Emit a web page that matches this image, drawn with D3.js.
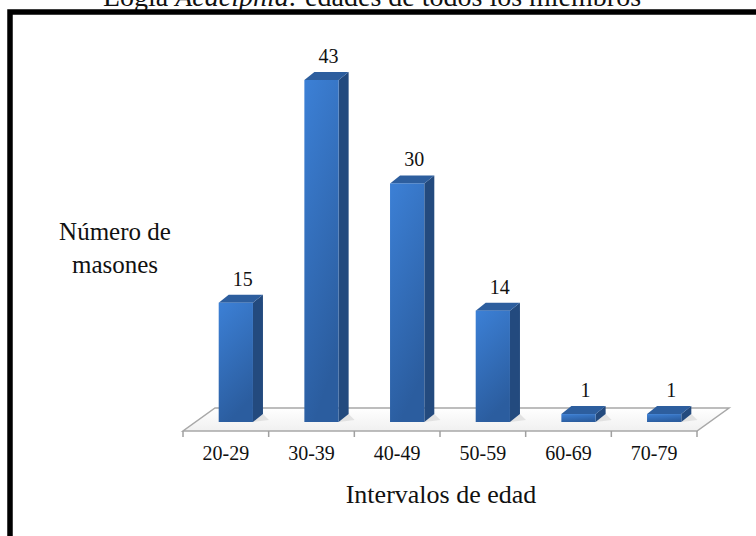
<!DOCTYPE html>
<html>
<head>
<meta charset="utf-8">
<script src="https://cdn.jsdelivr.net/npm/d3@7"></script>
<style>
  body { margin: 0; background: #fff; }
  svg { display: block; }
  text { font-family: "Liberation Serif", "Times New Roman", serif; fill: #111; }
</style>
</head>
<body>
<svg id="chart" width="756" height="536"></svg>
<script>
// data
const categories = ['20-29', '30-39', '40-49', '50-59', '60-69', '70-79'];
const members = [15, 43, 30, 14, 1, 1];

const svg = d3.select('#chart');

// gradients for the bars
const defs = svg.append('defs');
const front = defs.append('linearGradient').attr('id', 'front')
    .attr('x1', 0).attr('y1', 0).attr('x2', 0.3).attr('y2', 1);
front.append('stop').attr('offset', 0).attr('stop-color', '#3c80d6');
front.append('stop').attr('offset', 1).attr('stop-color', '#2b5d9f');
const floorGrad = defs.append('linearGradient').attr('id', 'floor')
    .attr('x1', 0).attr('y1', 0).attr('x2', 0).attr('y2', 1);
floorGrad.append('stop').attr('offset', 0).attr('stop-color', '#ffffff');
floorGrad.append('stop').attr('offset', 1).attr('stop-color', '#f0f0f0');

// title (cut by the top of the picture)
const title = svg.append('text')
    .attr('x', 372).attr('y', 6)
    .attr('text-anchor', 'middle')
    .style('font-size', '28px');
title.append('tspan').text('Logia ');
title.append('tspan').style('font-style', 'italic').text('Acacipnia:');
title.append('tspan').text(' edades de todos los miembros');

// frame
svg.append('rect')
    .attr('x', 10).attr('y', 12)
    .attr('width', 800).attr('height', 600)
    .attr('fill', 'none')
    .attr('stroke', '#000')
    .attr('stroke-width', 5.5);

// scales
const floorFront = 431;
const depthX = 32, depthY = 23;
const x = d3.scaleBand()
    .domain(categories)
    .range([183, 697]);

const base = 422;
const y = d3.scaleLinear()
    .domain([0, 43])
    .range([base, 80]);

// floor
const x0 = x.range()[0], x1 = x.range()[1];
svg.append('path')
    .attr('d', `M${x0},${floorFront} L${x1},${floorFront} L${x1 + depthX},${floorFront - depthY} L${x0 + depthX},${floorFront - depthY} Z`)
    .attr('fill', 'url(#floor)')
    .attr('stroke', '#a8a8a8')
    .attr('stroke-width', 1.5);

// x axis ticks
const ticks = categories.map(c => x(c)).concat([x1]);
svg.selectAll('.tick')
    .data(ticks)
    .enter().append('line')
    .attr('x1', d => d).attr('x2', d => d)
    .attr('y1', floorFront).attr('y2', floorFront + 6)
    .attr('stroke', '#a0a0a0')
    .attr('stroke-width', 1.5);

svg.selectAll('.xlabel')
    .data(categories)
    .enter().append('text')
    .attr('x', d => x(d) + x.bandwidth() / 2)
    .attr('y', 460)
    .attr('text-anchor', 'middle')
    .style('font-size', '20px')
    .text(d => d);

// bars
const barW = x.bandwidth() * 0.4;
const shift = 10; // depth of bar side
const shiftY = 8;
const bars = svg.selectAll('.bar')
    .data(categories.map((c, i) => ({ cat: c, v: members[i] })))
    .enter().append('g');

const left = d => x(d.cat) + x.bandwidth() / 2 - barW / 2 + 10;

// shadow on floor
bars.append('path')
    .attr('d', d => `M${left(d) + barW},${base} L${left(d) + barW + 16},${base - 2} L${left(d) + barW + shift},${base - shiftY} Z`)
    .attr('fill', '#d8d8d8')
    .attr('opacity', 0.7);

bars.append('path') // side
    .attr('d', d => `M${left(d) + barW},${y(d.v)} L${left(d) + barW + shift},${y(d.v) - shiftY} L${left(d) + barW + shift},${base - shiftY} L${left(d) + barW},${base} Z`)
    .attr('fill', '#234a7e');

bars.append('path') // top
    .attr('d', d => `M${left(d)},${y(d.v)} L${left(d) + shift},${y(d.v) - shiftY} L${left(d) + barW + shift},${y(d.v) - shiftY} L${left(d) + barW},${y(d.v)} Z`)
    .attr('fill', '#2d5e9e');

bars.append('rect') // front
    .attr('x', d => left(d))
    .attr('y', d => y(d.v))
    .attr('width', barW)
    .attr('height', d => base - y(d.v))
    .attr('fill', 'url(#front)');

bars.append('text')
    .attr('x', d => left(d) + barW / 2 + 7)
    .attr('y', d => y(d.v) - 17)
    .attr('text-anchor', 'middle')
    .style('font-size', '20px')
    .text(d => d.v);

// axis titles
svg.append('text')
    .attr('x', 441).attr('y', 503)
    .attr('text-anchor', 'middle')
    .style('font-size', '26px')
    .text('Intervalos de edad');

const yl = svg.append('text')
    .attr('text-anchor', 'middle')
    .style('font-size', '25px');
yl.append('tspan').attr('x', 115).attr('y', 240).text('Número de');
yl.append('tspan').attr('x', 115).attr('y', 273).text('masones');
</script>
</body>
</html>
